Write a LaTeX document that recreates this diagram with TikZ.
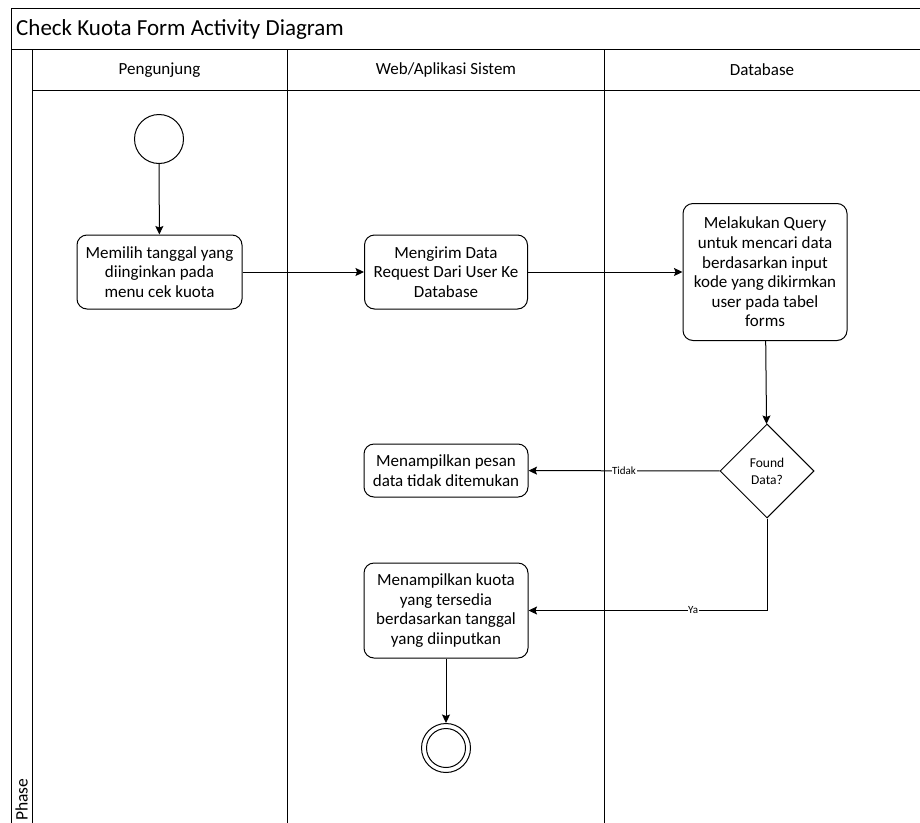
\documentclass[tikz,border=0pt]{standalone}
\usepackage{fontspec}
\setmainfont{Carlito}
\usetikzlibrary{arrows.meta,shapes.geometric}

\begin{document}
\begin{tikzpicture}[x=1pt,y=-1pt,
  act/.style={draw, rounded corners=10pt, align=center, inner sep=0pt,
              font=\fontsize{17}{19.6}\selectfont, line width=1pt},
  flow/.style={draw, line width=1pt, -{Stealth[length=8.5pt,width=8pt,inset=1.5pt]}},
  lbl/.style={fill=white, inner sep=0.5pt, font=\fontsize{11}{12}\selectfont},
  frameline/.style={line width=1pt},
  lanehead/.style={font=\fontsize{17}{20}\selectfont},
  dot/.style={draw, circle, inner sep=0pt, line width=1pt}
]
\useasboundingbox (0,0) rectangle (920,822);
\clip (0,0) rectangle (920,822);

% pool frame, title band, lane headers and dividers
\draw[frameline] (11,8) rectangle (922,850);
\draw[frameline] (11,49) -- (922,49);
\draw[frameline] (32,90) -- (922,90);
\draw[frameline] (32,49) -- (32,850);
\draw[frameline] (287.5,49) -- (287.5,850);
\draw[frameline] (604.5,49) -- (604.5,850);

\node[anchor=west, inner sep=0pt, font=\fontsize{23}{27}\selectfont] (title) at (16,29) {Check Kuota Form Activity Diagram};
\node[lanehead] (lane1) at (159.5,70) {Pengunjung};
\node[lanehead] (lane2) at (446,70) {Web/Aplikasi Sistem};
\node[lanehead] (lane3) at (762,70) {Database};
\node[rotate=90, anchor=west, inner sep=1pt, font=\fontsize{17.5}{20}\selectfont] (phase) at (21.5,822) {Phase};

% activity nodes
\node[dot, minimum size=49pt] (start) at (159,139) {};
\node[act, minimum width=165pt, minimum height=74pt] (a1) at (159.5,272)
  {Memilih tanggal yang\\diinginkan pada\\menu cek kuota};
\node[act, minimum width=163pt, minimum height=74pt] (a2) at (446,272)
  {Mengirim Data\\Request Dari User Ke\\Database};
\node[act, minimum width=164pt, minimum height=137pt] (a3) at (765,272)
  {Melakukan Query\\untuk mencari data\\berdasarkan input\\kode yang dikirmkan\\user pada tabel\\forms};
\node[draw, diamond, aspect=1, minimum width=94pt, minimum height=94pt, inner sep=0pt,
      line width=1pt, align=center, font=\fontsize{13.5}{17}\selectfont] (dec) at (767,471)
  {Found\\Data?};
\node[act, minimum width=164pt, minimum height=53pt] (a4) at (446,470.5)
  {Menampilkan pesan\\data tidak ditemukan};
\node[act, minimum width=164pt, minimum height=95pt] (a5) at (446,610.5)
  {Menampilkan kuota\\yang tersedia\\berdasarkan tanggal\\yang diinputkan};
\node[dot, minimum size=49pt] (end) at (446,748) {};
\draw[line width=1pt] (end.center) circle (19.5);

% control flow
\draw[flow] (start) -- (a1);
\draw[flow] (a1) -- (a2);
\draw[flow] (a2) -- (a3);
\draw[flow] (a3) -- (dec);
\draw[flow] (dec) -- node[lbl] {Tidak} (a4);
\draw[flow] (dec) |- node[lbl, pos=0.655] {Ya} (a5);
\draw[flow] (a5) -- (end);
\end{tikzpicture}
\end{document}
